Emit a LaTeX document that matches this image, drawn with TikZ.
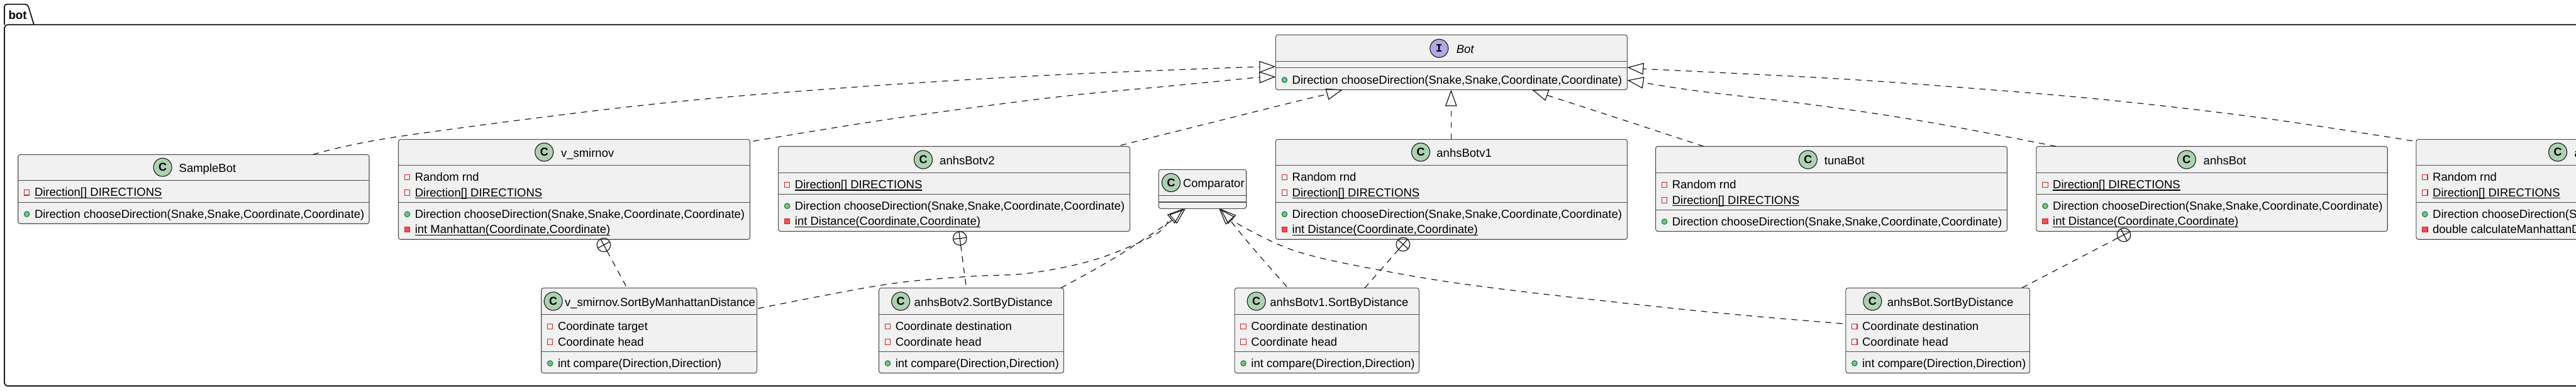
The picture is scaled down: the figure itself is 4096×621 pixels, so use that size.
\documentclass[tikz,border=0pt]{standalone}
\usepackage{fontspec}
\setmainfont{Liberation Sans}
\newfontfamily\iconfont{Liberation Mono}
\usetikzlibrary{arrows.meta,calc}
\definecolor{boxfill}{HTML}{F1F1F1}
\definecolor{boxline}{HTML}{505050}
\definecolor{inkline}{HTML}{181818}
\definecolor{classgreen}{HTML}{ADD1B2}
\definecolor{ifacepurple}{HTML}{B4A7E5}
\definecolor{privred}{HTML}{C82930}
\definecolor{privfill}{HTML}{F24D5C}
\definecolor{pubgreen}{HTML}{038048}
\definecolor{pubfill}{HTML}{84BE84}
\newcount\rowno
\newcommand{\ulin}[1]{\setbox0\hbox{#1}\rlap{\rule[-3.2pt]{\wd0}{1.3pt}}\box0}
\newcommand{\mainsize}{\fontsize{18.5}{22}\selectfont}
\tikzset{
  classbox/.style={draw=boxline,fill=boxfill,line width=1.1pt,rounded corners=3.5pt,anchor=north west,inner sep=0pt,outer sep=0pt},
  rowrule/.style={draw=boxline,line width=1.1pt},
  label text/.style={anchor=base west,inner sep=0pt,outer sep=0pt,font=\mainsize,text=black},
  badge/.style={circle,draw=inkline,line width=1.1pt,minimum size=29pt,inner sep=0pt,outer sep=0pt,font=\bfseries\fontsize{18}{18}\selectfont},
  privfield/.style={draw=privred,fill=boxfill,line width=1.1pt,minimum size=8.4pt,inner sep=0pt,outer sep=0pt},
  privmethod/.style={draw=privred,fill=privfill,line width=1.1pt,minimum size=8.4pt,inner sep=0pt,outer sep=0pt},
  pubmethod/.style={circle,draw=pubgreen,fill=pubfill,line width=1.1pt,minimum size=8.4pt,inner sep=0pt,outer sep=0pt},
  impl/.style={draw=inkline,line width=1.2pt,dash pattern=on 9.5pt off 8.5pt,-{Triangle[open,length=26pt,width=18.5pt]}},
  nested/.style={draw=inkline,line width=1.2pt,dash pattern=on 9.5pt off 8.5pt},
  nestmark/.style={circle,draw=inkline,line width=1.2pt,minimum size=21.6pt,inner sep=0pt,outer sep=0pt},
  crossline/.style={draw=inkline,line width=1.2pt},
}
% name, left, right, top, rule1, rule2, bottom
\newcommand{\umlbox}[7]{%
  \pgfmathsetmacro{\bw}{#3-#2}\pgfmathsetmacro{\bh}{#7-#4}%
  \node[classbox,minimum width=\bw pt,minimum height=\bh pt] (#1) at (#2,#4) {};
  \draw[rowrule] (#2,#5) -- (#3,#5);
  \draw[rowrule] (#2,#6) -- (#3,#6);
}
% name, badge x, badge y, letter, colour, text x, title
\newcommand{\umlhead}[7]{%
  \node[badge,fill=#5] (#1badge) at (#2,#3) {#4};
  \node[label text] (#1title) at (#6,{#3+7.6}) {#7};
}
\newcommand{\fieldrow}[3]{%
  \global\advance\rowno by 1
  \node[privfield] (icon\the\rowno) at ({#1+14},{#2-6}) {};
  \node[label text] (row\the\rowno) at ({#1+26.3},#2) {#3};
}
\newcommand{\pubrow}[3]{%
  \global\advance\rowno by 1
  \node[pubmethod] (icon\the\rowno) at ({#1+14},{#2-6}) {};
  \node[label text] (row\the\rowno) at ({#1+26.3},#2) {#3};
}
\newcommand{\privrow}[3]{%
  \global\advance\rowno by 1
  \node[privmethod] (icon\the\rowno) at ({#1+14},{#2-6}) {};
  \node[label text] (row\the\rowno) at ({#1+26.3},#2) {#3};
}
% name, x, y, angle
\newcommand{\nestmark}[4]{%
  \node[nestmark] (#1) at (#2,#3) {};
  \pgfmathsetmacro{\aa}{90+#4}\pgfmathsetmacro{\ab}{270+#4}\pgfmathsetmacro{\ac}{#4}\pgfmathsetmacro{\ad}{180+#4}%
  \draw[crossline] (#1.\aa) -- (#1.\ab);
  \draw[crossline] (#1.\ac) -- (#1.\ad);
}
\begin{document}
\begin{tikzpicture}[x=1pt,y=-1pt]
\useasboundingbox (0,0) rectangle (4096,621);
\fill[white] (0,0) rectangle (4096,621);
\clip (0,0) rectangle (4096,621);

% package frame
\draw[draw=inkline,line width=1.8pt,rounded corners=4pt] (7,39.3) -- (7,6.7) -- (44,6.7) -- (54,39.3);
\draw[draw=inkline,line width=1.8pt,rounded corners=5pt] (7,39.3) -- (7,613) -- (4300,613) -- (4300,39.3) -- cycle;
\node[anchor=base west,inner sep=0pt,font=\fontsize{18.7}{22}\selectfont\bfseries] (pkg) at (13.3,30) {bot};

% classes
\umlbox{samplebot}{28.7}{587}{245.5}{286.3}{321.6}{355.2}
\umlhead{samplebot}{258.6}{265.7}{C}{classgreen}{284.7}{SampleBot}
\fieldrow{28.7}{311.8}{\ulin{Direction[] DIRECTIONS}}
\pubrow{28.7}{346}{Direction chooseDirection(Snake,Snake,Coordinate,Coordinate)}

\umlbox{vsmirnov}{633.5}{1192.5}{221.4}{262.6}{321.6}{380.2}
\umlhead{vsmirnov}{865.3}{241.6}{C}{classgreen}{892}{v\_smirnov}
\fieldrow{633.5}{287.6}{Random rnd}
\fieldrow{633.5}{312}{\ulin{Direction[] DIRECTIONS}}
\pubrow{633.5}{346.2}{Direction chooseDirection(Snake,Snake,Coordinate,Coordinate)}
\privrow{633.5}{370.6}{\ulin{int Manhattan(Coordinate,Coordinate)}}

\umlbox{anhsbotvtwo}{1237.6}{1796.6}{232.5}{274.5}{308.5}{367.5}
\umlhead{anhsbotvtwo}{1468}{253.5}{C}{classgreen}{1494.2}{anhsBotv2}
\fieldrow{1237.6}{299.5}{\ulin{Direction[] DIRECTIONS}}
\pubrow{1237.6}{333.2}{Direction chooseDirection(Snake,Snake,Coordinate,Coordinate)}
\privrow{1237.6}{357.6}{\ulin{int Distance(Coordinate,Coordinate)}}

\umlbox{comparator}{1842.3}{1981.7}{269.3}{310.3}{321}{331.3}
\umlhead{comparator}{1862}{290}{C}{classgreen}{1881}{Comparator}

\umlbox{bot}{2028.4}{2587.4}{55.4}{97.4}{107.3}{142.6}
\umlhead{bot}{2288.3}{76.8}{\iconfont I}{ifacepurple}{2315.8}{\itshape Bot}
\pubrow{2028.4}{133}{Direction chooseDirection(Snake,Snake,Coordinate,Coordinate)}

\umlbox{anhsbotvone}{2028.4}{2587.4}{221.4}{262.6}{321.6}{380.2}
\umlhead{anhsbotvone}{2259}{241.6}{C}{classgreen}{2284.4}{anhsBotv1}
\fieldrow{2028.4}{287.6}{Random rnd}
\fieldrow{2028.4}{312}{\ulin{Direction[] DIRECTIONS}}
\pubrow{2028.4}{346.2}{Direction chooseDirection(Snake,Snake,Coordinate,Coordinate)}
\privrow{2028.4}{370.6}{\ulin{int Distance(Coordinate,Coordinate)}}

\umlbox{tunabot}{2632.5}{3191.5}{232.5}{274.5}{333.9}{367.5}
\umlhead{tunabot}{2874.8}{253.5}{C}{classgreen}{2900.9}{tunaBot}
\fieldrow{2632.5}{299.5}{Random rnd}
\fieldrow{2632.5}{324}{\ulin{Direction[] DIRECTIONS}}
\pubrow{2632.5}{358}{Direction chooseDirection(Snake,Snake,Coordinate,Coordinate)}

\umlbox{anhsbot}{3237.9}{3796.2}{232.5}{274.5}{308.5}{367.5}
\umlhead{anhsbot}{3476.9}{253.5}{C}{classgreen}{3503.7}{anhsBot}
\fieldrow{3237.9}{299.5}{\ulin{Direction[] DIRECTIONS}}
\pubrow{3237.9}{333.2}{Direction chooseDirection(Snake,Snake,Coordinate,Coordinate)}
\privrow{3237.9}{357.6}{\ulin{int Distance(Coordinate,Coordinate)}}

\umlbox{lastbot}{3841.8}{4300}{221.4}{262.6}{321.6}{380.2}
\umlhead{lastbot}{4067}{241.6}{C}{classgreen}{4093.3}{a}
\fieldrow{3841.8}{287.6}{Random rnd}
\fieldrow{3841.8}{312}{\ulin{Direction[] DIRECTIONS}}
\pubrow{3841.8}{346.2}{Direction chooseDirection(S}
\privrow{3841.8}{370.6}{double calculateManhattanD}

\umlbox{sortv}{860.7}{1203.6}{457.4}{499.4}{558.4}{592.5}
\umlhead{sortv}{879.7}{478.4}{C}{classgreen}{898}{v\_smirnov.SortByManhattanDistance}
\fieldrow{860.7}{524.6}{Coordinate target}
\fieldrow{860.7}{549}{Coordinate head}
\pubrow{860.7}{583}{int compare(Direction,Direction)}

\umlbox{sortvtwo}{1397.5}{1691.4}{457.4}{499.4}{558.4}{592.5}
\umlhead{sortvtwo}{1432.2}{478.4}{C}{classgreen}{1453.7}{anhsBotv2.SortByDistance}
\fieldrow{1397.5}{524.6}{Coordinate destination}
\fieldrow{1397.5}{549}{Coordinate head}
\pubrow{1397.5}{583}{int compare(Direction,Direction)}

\umlbox{sortvone}{1963.1}{2256.3}{457.4}{499.4}{558.4}{592.5}
\umlhead{sortvone}{1997.7}{478.4}{C}{classgreen}{2019.3}{anhsBotv1.SortByDistance}
\fieldrow{1963.1}{524.6}{Coordinate destination}
\fieldrow{1963.1}{549}{Coordinate head}
\pubrow{1963.1}{583}{int compare(Direction,Direction)}

\umlbox{sortb}{2934.8}{3227.4}{457.4}{499.4}{558.4}{592.5}
\umlhead{sortb}{2977.3}{478.4}{C}{classgreen}{3000.8}{anhsBot.SortByDistance}
\fieldrow{2934.8}{524.6}{Coordinate destination}
\fieldrow{2934.8}{549}{Coordinate head}
\pubrow{2934.8}{583}{int compare(Direction,Direction)}

% connector ends
\coordinate (a1) at ($(samplebot.north west)+(469,0)$);
\coordinate (b1) at ($(bot.north west)+(0,50.3)$);
\coordinate (a2) at ($(vsmirnov.north east)+(5.2,2.8)$);
\coordinate (b2) at ($(bot.north west)+(0,66.6)$);
\coordinate (a3) at ($(anhsbotvtwo.north east)+(-15,-1.6)$);
\coordinate (b3) at ($(bot.south west)+(106.5,0)$);
\coordinate (a4) at ($(anhsbotvone.north west)+(278.9,0)$);
\coordinate (b4) at ($(bot.south west)+(278.9,0)$);
\coordinate (a5) at ($(tunabot.north west)+(76.4,0)$);
\coordinate (b5) at ($(bot.south west)+(407.5,0)$);
\coordinate (a6) at ($(anhsbot.north west)+(31.3,0)$);
\coordinate (b6) at ($(bot.north east)+(0,72.1)$);
\coordinate (a7) at ($(lastbot.north west)+(-5.8,2.4)$);
\coordinate (b7) at ($(bot.north east)+(0,51.6)$);
\coordinate (a8) at ($(sortv.north east)+(1.9,32.5)$);
\coordinate (b8) at ($(comparator.south west)+(39.4,0)$);
\coordinate (a9) at ($(sortvtwo.north east)+(-4.5,0)$);
\coordinate (b9) at ($(comparator.south west)+(42.7,0)$);
\coordinate (a10) at ($(sortvone.north west)+(83,-2)$);
\coordinate (b10) at ($(comparator.south west)+(96,0)$);
\coordinate (a11) at ($(sortb.north west)+(-5.2,56.6)$);
\coordinate (b11) at ($(comparator.south west)+(97.7,0)$);
\coordinate (c1) at ($(sortv.north west)+(136.3,0)$);
\coordinate (c2) at ($(sortvtwo.north west)+(139,0)$);
\coordinate (c3) at ($(sortvone.north west)+(206.9,0)$);
\coordinate (c4) at ($(sortb.north west)+(279.6,0)$);

% realisations of Bot
\draw[impl] plot[smooth,tension=0.6] coordinates {(a1) (633.5,217) (1024,167) (1350,139) (1677,119) (1996.5,106.2)} -- (b1);
\draw[impl] plot[smooth,tension=0.6] coordinates {(a2) (1416,189) (1677,154.5) (1873,135.4) (1996.5,123.2)} -- (b2);
\draw[impl] plot[smooth,tension=0.6] coordinates {(a3) (2048,164.4) (2104,151.2)} -- (b3);
\draw[impl] (a4) -- (b4);
\draw[impl] plot[smooth,tension=0.6] coordinates {(a5) (2583.5,191.3) (2466,153.3)} -- (b5);
\draw[impl] plot[smooth,tension=0.6] coordinates {(a6) (3072,195) (2897,168.3) (2701,144.6) (2619,132.2)} -- (b6);
\draw[impl] plot[smooth,tension=0.6] coordinates {(a7) (3594.4,187) (3333,157) (3072,135.4) (2897,123.6) (2619,109.7)} -- (b7);

% realisations of Comparator
\draw[impl] plot[smooth,tension=0.6] coordinates {(a8) (1402.8,452.7) (1533.4,439.6) (1637.9,433.7) (1742.4,411.9) (1833.8,374.3) (1857,352)} -- (b8);
\draw[impl] plot[smooth,tension=0.6] coordinates {(a9) (1775,408) (1860.6,352)} -- (b9);
\draw[impl] plot[smooth,tension=0.6] coordinates {(a10) (1990.5,392) (1961,356)} -- (b10);
\draw[impl] plot[smooth,tension=0.6] coordinates {(a11) (2701,493.9) (2374.5,457.4) (2198,429.7) (2057.8,398) (1963.5,352.8)} -- (b11);

% nesting
\nestmark{nestv}{960}{389}{28.5}
\nestmark{nestvtwo}{1526.2}{378.6}{7.4}
\nestmark{nestvone}{2230.9}{388.1}{-41.5}
\nestmark{nestb}{3377}{373}{-62.6}
\draw[nested] (nestv) -- (c1);
\draw[nested] (nestvtwo) -- (c2);
\draw[nested] (nestvone) -- (c3);
\draw[nested] (nestb) -- (c4);
\end{tikzpicture}
\end{document}
